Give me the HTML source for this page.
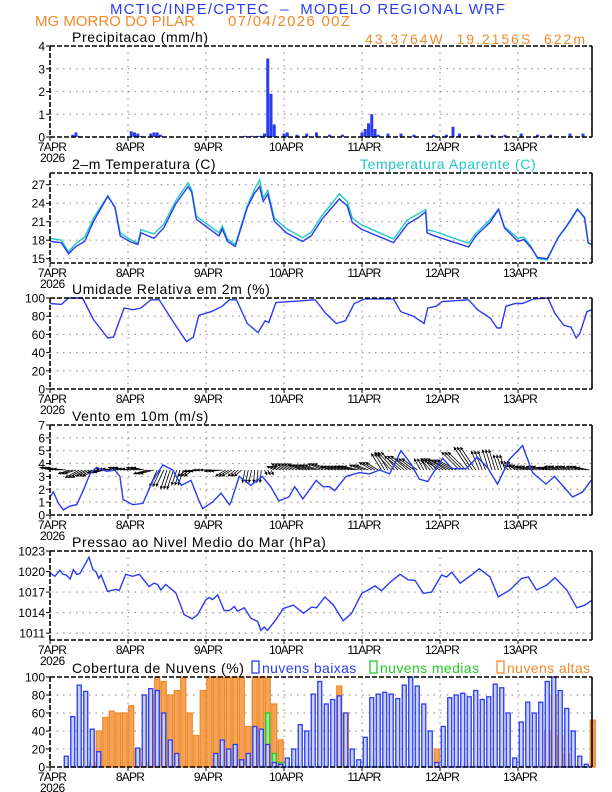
<!DOCTYPE html>
<html><head><meta charset="utf-8"><style>
body{margin:0;background:#fff;}
svg{display:block;font-family:"Liberation Sans",sans-serif;}
</style></head><body>
<svg id="c" width="612" height="792" viewBox="0 0 612 792" xmlns="http://www.w3.org/2000/svg">
<text x="110" y="14" textLength="395" font-size="15" fill="#2a3cf0" xml:space="preserve">MCTIC/INPE/CPTEC  –  MODELO REGIONAL WRF</text>
<text x="35" y="26" textLength="160" font-size="15" fill="#f08a2a">MG MORRO DO PILAR</text>
<text x="228" y="26" textLength="122" font-size="15" fill="#f08a2a">07/04/2026 00Z</text>
<text x="365" y="44" textLength="220" font-size="14" fill="#f08a2a" xml:space="preserve">43.3764W  19.2156S  622m</text>
</svg>
<script>
// ---- data ----
const dayLabels=["7APR","8APR","9APR","10APR","11APR","12APR","13APR"];
const precipHours=[7,8,9,25,26,27,28,31,32,33,34,60,62,64,65,66,67,68,69,72,73,76,79,82,86,90,96,97,98,99,100,101,104,108,112,118,122,124,126,132,136,140,145,150,154,160,164];
const precipVals=[0.1,0.2,0.05,0.25,0.2,0.15,0.05,0.15,0.2,0.2,0.1,0.05,0.05,0.05,0.05,0.15,3.45,1.9,0.55,0.15,0.2,0.1,0.15,0.2,0.1,0.1,0.2,0.35,0.6,1.0,0.35,0.1,0.15,0.15,0.1,0.1,0.1,0.45,0.15,0.1,0.1,0.1,0.15,0.1,0.1,0.15,0.15];
const tempHours=[0,3.5,5.7,8,10.7,13.4,17.8,20,21.6,24.4,27,28,32,35,38.7,42.5,43.6,45,48.6,52,53,54.6,57,60.7,62.9,64.5,65.6,67,69,72.7,77.7,80.4,83.7,89,91.4,93,95.8,105.7,110,113.4,115.6,116,117.8,128.8,131,135.4,138,139.8,144,145.8,148,150,153,156.3,159,162.3,164.5,165.6,166.7];
const tempVals=[17.8,17.6,15.8,17,17.8,21.1,25.1,23.3,18.7,17.8,17.3,19.2,18.3,20,23.9,26.7,25.8,21.4,20,18.7,19.8,17.8,17,23.3,25.6,26.7,24.3,25.5,21.1,19.2,17.8,18.7,21.4,24.7,23.6,20.9,19.8,17.6,20.6,21.7,22.6,19.2,18.8,16.9,18.7,20.9,23,20,17.8,18.1,16.8,15.2,15,18.4,20.3,23,21.7,17.6,17.3];
const apparentVals=[18.3,18,16.1,17.5,18.5,21.6,25.2,23.4,19.2,18.2,17.5,19.7,19,20.6,24.4,27.3,26.2,21.9,20.5,19.2,20.3,18.2,17.3,23.6,26.2,27.8,24.9,26.1,21.6,19.9,18.4,19.3,22,25.5,24.3,21.6,20.5,18.2,21.3,22.3,23,19.7,19.5,17.5,19.1,21.3,23.1,20.2,18.3,18.5,17,15,14.8,18.4,20.4,23.1,21.5,17.5,17.3];
const rhHours=[0,3.5,5.7,10,13.4,17.8,19.5,22.8,25.5,28,31,33.6,37.5,42,44.1,45.8,49.7,53,55.2,57.4,60.7,64,66.2,67.3,69.5,73.9,81.6,84.9,88.1,90.9,93.6,96.9,105.7,107.9,111.8,115.1,116.2,118.9,120.6,128.8,131.6,135.4,137.6,138.7,140.3,143.2,145.4,148.8,153.2,155.4,158.1,160.3,161.9,163,165.2,166.7];
const rhVals=[94,93,100,100,76,56,57,89,87,89,98,98,76,52,57,81,85,91,98,98,72,62,75,73,95,96,98,83,72,75,94,99,99,85,80,72,89,91,96,98,87,78,67,67,91,94,94,99,100,83,70,68,56,61,85,87];
const windHours=[0,1,2.6,4.1,6.1,8.2,10.2,12.3,14.3,17.4,19.9,21.5,22.5,25.5,28.6,31.7,34.7,37.8,40.4,43.4,46,47,50,52.6,55.2,55.7,58.2,61.8,65.3,67.9,70.4,73.5,75.3,77.8,81.9,84,86,87.6,91.1,95.2,98.3,101.4,104.5,108,111,113.6,116.2,118.7,120.8,123.8,128,131.5,134.6,137.7,141.3,145.4,148.5,152.6,155.2,157.7,160.8,163.9,166.5];
const windVals=[1.4,1.8,0.9,0.4,0.7,0.8,1.9,3.2,3.7,3.4,3.5,3,1.2,0.8,0.9,2.7,3.9,3.5,2.3,2.7,1,0.5,1,1.7,0.8,1,3,2.3,3,2.2,1.1,1.4,2.2,1.25,2.7,2.2,2.2,1.9,3,3.3,3.2,3.5,3.2,5,4,2.8,2.6,3.6,4.4,3.6,3.6,4.5,3.7,2.4,4.3,5.4,3.3,2.4,3,2.3,1.4,1.8,2.7];
// wind vectors every 3h (u east, v north), m/s
const vecU=[-0.8,-1,-0.9,-1.1,-1,-0.9,-1,-0.8,-1,-0.9,-1.1,-0.6,-0.5,-0.4,-0.7,-1,-1,-0.9,-0.8,-0.6,-0.2,-0.1,0.2,-0.6,-1,-1,-1.2,-1.2,-1.2,-1,-1,-1.2,-1,-1,-0.8,-1.3,-1.3,-1.2,-0.5,-0.7,-1.5,-1.5,-1.4,-1.2,-0.6,-0.5,-0.4,-0.6,-1,-1,-0.9,-0.8,-1,-0.9,-0.8,-1];
const vecV=[0.2,0.1,-0.3,-0.6,-0.5,-0.2,0.1,0.2,0.1,0.2,-0.3,-1.3,-1.5,-1.2,-0.5,-0.1,0,-0.1,-0.5,-0.5,-1,-1,-0.4,0.3,0.5,0.5,0.4,0.4,0.5,0.3,0.3,0.3,0.4,0.6,1.3,1.4,1.1,0.9,0.9,0.8,0.9,0.8,1.4,1.8,1.5,1.6,1.2,0.7,0.4,0.3,0.3,0.2,0.3,0.3,0.3,0.2];
const pressHours=[0,1.5,3,4,5,6.2,7.2,8.2,9.2,12,13.2,14.2,15,15.7,17.7,20.3,21.3,23.3,25.4,27.5,30.5,32,33.1,34.1,35.6,38.7,41.3,43.8,45.4,48,49,50,51.6,53.6,55.2,56.7,57.7,59.8,61.8,63.9,64.9,65.9,66.9,69.4,71.8,74.9,78,80.5,82,84.6,87.2,90.2,92.8,95.9,97.9,100,102,104.6,107.7,110.2,112.3,114.9,117.4,120.5,122,123.6,126.2,129.7,132.1,135.4,137.9,141.5,145.1,147.2,149.7,152.8,155.4,159,162.1,164.6,166.7];
const pressVals=[1019.8,1019.3,1020.2,1019.6,1019.5,1018.9,1020.3,1019.6,1019.7,1022.1,1020.3,1019.9,1019,1019.5,1017.1,1017.4,1017.2,1019.6,1019.3,1019.6,1017.8,1018.3,1018.1,1017.3,1018.1,1016.9,1013.7,1013.1,1013.7,1015.9,1016.2,1015.9,1016.6,1014.3,1014.3,1014.9,1014.2,1014.7,1013.2,1012.7,1011.4,1011.9,1011.4,1012.9,1014.6,1015.1,1013.9,1014.8,1014.7,1016.3,1015.1,1012.8,1013.9,1016.8,1017.3,1017.9,1017.2,1018.4,1019.6,1018.8,1018.7,1016.8,1017,1019.5,1019.2,1019.9,1018.3,1019.5,1020.4,1019.2,1016.3,1017.3,1019,1019.2,1017.3,1018,1019.1,1017.3,1014.7,1015.1,1015.8];
const cloudLow=[0,0,12,56,91,84,42,17,0,0,0,0, 0,21,80,87,85,60,30,15,0,0,0,0, 0,15,30,20,25,8,15,45,42,25,5,3, 10,20,47,40,81,95,70,75,79,60,20,8, 33,77,81,83,81,76,91,100,90,70,40,5, 45,77,80,82,78,85,75,78,92,88,60,10, 50,72,60,72,95,100,85,65,40,12,3,0];
const cloudMid=[0,0,0,0,0,0,0,0,0,0,0,0, 0,0,0,0,0,0,0,0,0,0,0,0, 0,0,0,0,0,0,0,0,40,60,15,5, 0,3,0,0,0,0,0,0,5,3,0,0, 5,10,3,0,0,0,0,0,0,0,0,0, 0,0,0,0,0,0,0,0,0,5,0,0, 0,0,0,0,0,0,0,0,0,0,0,0];
const cloudHigh=[0,0,0,0,0,0,5,40,55,62,60,60, 68,20,5,80,100,95,80,85,100,60,35,85, 100,100,100,100,100,100,45,100,100,100,70,30, 0,0,0,0,0,0,0,0,90,60,0,0, 0,0,0,0,0,0,0,0,0,0,0,20, 0,0,0,0,0,0,0,0,0,0,0,0, 0,0,0,0,40,80,35,15,0,0,0,52];
</script>
<script>
const svg=document.getElementById('c');const NS='http://www.w3.org/2000/svg';
function el(t,a,p){const e=document.createElementNS(NS,t);for(const k in a)e.setAttribute(k,a[k]);(p||svg).appendChild(e);return e;}
const X0=50,X1=592,HMAX=(X1-X0)/3.25;
function xs(h){return X0+h*3.25;}
const panels=[
 {name:'precip',top:46,bot:137,min:0,max:4,ticks:[0,1,2,3,4],title:'Precipitacao (mm/h)'},
 {name:'temp',top:173,bot:263,min:14.3,max:28.9,ticks:[15,18,21,24,27],title:'2–m Temperatura (C)'},
 {name:'rh',top:298,bot:389,min:0,max:100,ticks:[0,20,40,60,80,100],title:'Umidade Relativa em 2m (%)'},
 {name:'wind',top:425,bot:515,min:0,max:7,ticks:[0,1,2,3,4,5,6,7],title:'Vento em 10m (m/s)'},
 {name:'pressure',top:551,bot:640,min:1010,max:1023,ticks:[1011,1014,1017,1020,1023],title:'Pressao ao Nivel Medio do Mar (hPa)'},
 {name:'clouds',top:677,bot:767,min:0,max:100,ticks:[0,20,40,60,80,100],title:'Cobertura de Nuvens (%)'}];
for(const p of panels){
 p.y=v=>p.bot-(v-p.min)/(p.max-p.min)*(p.bot-p.top);
 const g=el('g',{});
 for(const t of p.ticks){const yy=p.y(t);
  if(yy>p.top+1&&yy<p.bot-1){const l=el('line',{x1:X0,x2:X1,y1:yy,y2:yy,stroke:'#999','stroke-dasharray':'1.5,5','stroke-width':1.2},g);}
  const tx=el('text',{x:45,y:yy+4.5,'text-anchor':'end','font-size':12},g);tx.textContent=t;
  el('line',{x1:X0-4,x2:X0,y1:yy,y2:yy,stroke:'#000'},g);}
 dayLabels.forEach((d,i)=>{const xx=xs(i*24);
  if(i>0){const l=el('line',{x1:xx,x2:xx,y1:p.top,y2:p.bot,stroke:'#999','stroke-dasharray':'1.5,5','stroke-width':1.2},g);}
  el('line',{x1:xx,x2:xx,y1:p.bot,y2:p.bot+4,stroke:'#000'},g);
  const tx=el('text',{x:xx+2,y:p.bot+14,'text-anchor':'middle','font-size':12,'letter-spacing':'-0.8'},g);tx.textContent=d;});
 const yr=el('text',{x:40,y:p.bot+25,'font-size':12,'letter-spacing':'-0.5'},g);yr.textContent='2026';
 const ti=el('text',{x:72,y:p.top-4,'font-size':14,'letter-spacing':'0.6'},g);ti.textContent=p.title;
 p.g=g;
}
function frames(){for(const p of panels){
 const f=el('g',{});
 el('line',{x1:X0,x2:X1,y1:p.top,y2:p.top,stroke:'#000','stroke-width':1.6,'stroke-dasharray':'5,2'},f);
 el('line',{x1:X0,x2:X0,y1:p.top,y2:p.bot,stroke:'#000','stroke-width':1.6,'stroke-dasharray':'5,2'},f);
 el('line',{x1:X0,x2:X1,y1:p.bot,y2:p.bot,stroke:'#000','stroke-width':1.6,'stroke-dasharray':'5,2'},f);
 el('line',{x1:X1,x2:X1,y1:p.top,y2:p.bot,stroke:'#000','stroke-width':1.6},f);}}
function line(p,hs,vs,col,name){let d='';for(let i=0;i<Math.min(hs.length,vs.length);i++){d+=(i?'L':'M')+xs(Math.min(hs[i],HMAX)).toFixed(1)+','+p.y(vs[i]).toFixed(1);}
 const pa=el('path',{d:d,fill:'none',stroke:col,'stroke-width':1.4},p.g);}
const P=panels;
precipHours.forEach((h,i)=>{const r=el('rect',{x:xs(h)-1.5,y:P[0].y(precipVals[i]),width:3,height:P[0].bot-P[0].y(precipVals[i]),fill:'#2a3cf0'},P[0].g);
 });
line(P[1],tempHours,apparentVals,'#1fc8c8','apparent-temp-line');
line(P[1],tempHours,tempVals,'#2a3cf0','temp-line');
{const t=el('text',{x:360,y:P[1].top-4,'font-size':14,fill:'#1fc8c8','letter-spacing':'0.6'});t.textContent='Temperatura Aparente (C)';}
line(P[2],rhHours,rhVals,'#2a3cf0','rh-line');
const wy=P[3].y(3.5),k=(P[3].bot-P[3].top)/7;
vecU.forEach((u,i)=>{for(let s=0;s<3;s++){const h=i*3+s;if(h>HMAX)continue;const x=xs(h);const x2=x+u*k,y2=wy-vecV[i]*k;
 const a=el('line',{x1:x,y1:wy,x2:x2,y2:y2,stroke:'#000','stroke-width':0.8},P[3].g);
 const ang=Math.atan2(y2-wy,x2-x);const hd=el('path',{d:`M${x2},${y2}L${x2-3.5*Math.cos(ang-0.5)},${y2-3.5*Math.sin(ang-0.5)}L${x2-3.5*Math.cos(ang+0.5)},${y2-3.5*Math.sin(ang+0.5)}Z`,fill:'#000'},P[3].g);}});
line(P[3],windHours,windVals,'#2a3cf0','wind-speed-line');
line(P[4],pressHours,pressVals,'#2a3cf0','pressure-line');
function bars(arr,col,fill,name,w){arr.forEach((v,i)=>{const h=i*2+1;if(h>HMAX+1)return;const y=P[5].y(v);
 const r=el('rect',{x:xs(h)-w/2,y:y,width:w,height:P[5].bot-y,fill:fill,stroke:col,'stroke-width':1.3},P[5].g);});}
bars(cloudHigh,'#f08a2a','#f4a45a','cloud-high-bar',5);
bars(cloudMid,'#22cc22','#9be89b','cloud-mid-bar',4);
bars(cloudLow,'#2a3cf0','#c8d0fa','cloud-low-bar',4);
const lg=[['nuvens baixas','#2a3cf0',252],['nuvens medias','#22cc22',370],['nuvens altas','#f08a2a',497]];
lg.forEach(([t,c,x])=>{const r=el('rect',{x:x,y:P[5].top-16,width:7,height:12,fill:'none',stroke:c,'stroke-width':1.3});
 const tx=el('text',{x:x+10,y:P[5].top-4,'font-size':14,fill:c,'letter-spacing':'0.4'});tx.textContent=t;});
frames();
</script>
</body></html>
